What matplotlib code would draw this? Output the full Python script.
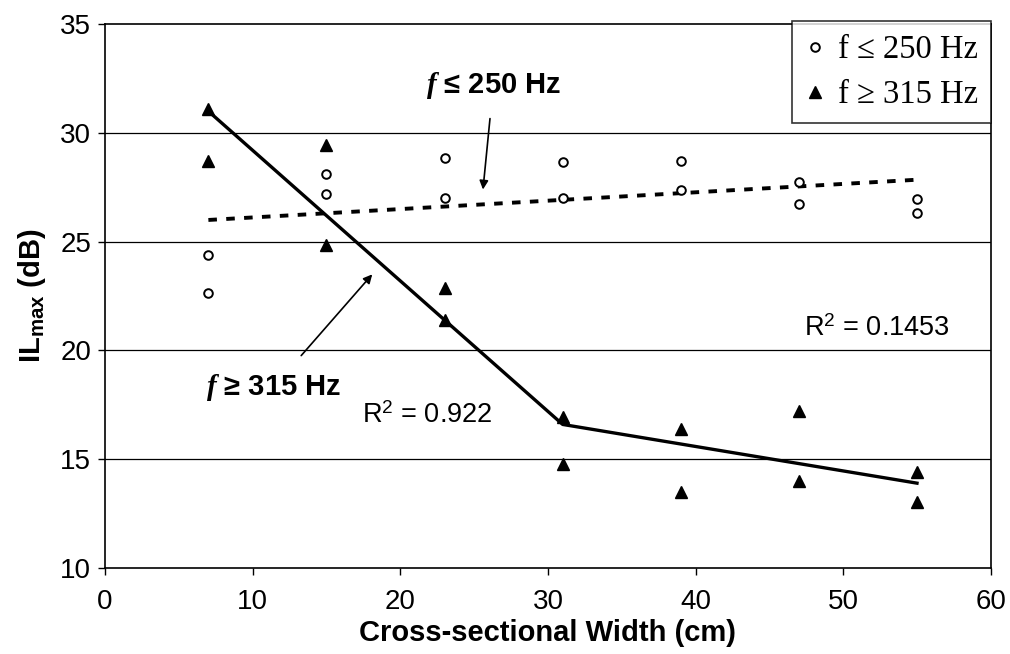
import matplotlib
matplotlib.use("Agg")
import matplotlib.pyplot as plt
from matplotlib.lines import Line2D

# ── данные ────────────────────────────────────────────────────────────────
widths = [7, 15, 23, 31, 39, 47, 55]

# f <= 250 Hz : по две точки на каждую ширину
low_a = [24.4, 28.1, 28.85, 28.65, 28.7, 27.75, 26.95]
low_b = [22.65, 27.2, 27.0, 27.0, 27.4, 26.75, 26.3]

# f >= 315 Hz
high_a = [31.1, 29.45, 22.85, 16.95, 16.4, 17.2, 14.4]
high_b = [28.7, 24.85, 21.4, 14.8, 13.5, 14.0, 13.05]

# линии тренда
trend_high_x = [7, 31, 55]
trend_high_y = [31.0, 16.6, 13.9]
trend_low_x = [7, 55]
trend_low_y = [26.0, 27.85]

xticks = [0, 10, 20, 30, 40, 50, 60]
yticks = [10, 15, 20, 25, 30, 35]

# ── шрифты ────────────────────────────────────────────────────────────────
plt.rcParams["font.family"] = ["Liberation Sans", "DejaVu Sans"]
plt.rcParams["mathtext.fontset"] = "custom"
plt.rcParams["mathtext.rm"] = "Liberation Sans"
plt.rcParams["mathtext.bf"] = "Liberation Sans:bold"
plt.rcParams["mathtext.it"] = "Liberation Serif:italic:bold"

fig = plt.figure(figsize=(10.1, 6.54), dpi=100)
ax = fig.add_axes([0.104, 0.1315, 0.877, 0.8315])

# сетка
for y in yticks[1:-1]:
    ax.axhline(y, color="black", lw=0.9, zorder=1)

# точки
ax.plot(widths, low_a, "o", ms=6.2, mfc="white", mec="black", mew=1.4, zorder=3)
ax.plot(widths, low_b, "o", ms=6.2, mfc="white", mec="black", mew=1.4, zorder=3)
ax.plot(widths, high_a, "^", ms=8.5, color="black", zorder=3)
ax.plot(widths, high_b, "^", ms=8.5, color="black", zorder=3)

# тренды
ax.plot(trend_high_x, trend_high_y, "-", color="black", lw=2.4, zorder=2)
ax.plot(trend_low_x, trend_low_y, color="black", lw=2.8, dashes=(2.2, 2.4), zorder=2)

ax.set_xlim(0, 60)
ax.set_ylim(10, 35)
ax.set_xticks(xticks)
ax.set_yticks(yticks)
ax.tick_params(direction="out", length=5, width=1, labelsize=20, pad=5)
ax.tick_params(axis="x", pad=10)
for s in ax.spines.values():
    s.set_linewidth(1.2)

ax.set_xlabel("Cross-sectional Width (cm)", fontsize=21, fontweight="bold", labelpad=3)
ax.set_ylabel(r"IL$_{\mathbf{max}}$ (dB)", fontsize=21, fontweight="bold", labelpad=9)

# подписи со стрелками
ax.annotate(r"$\mathit{f}$ ≤ 250 Hz", xy=(25.6, 27.4), xytext=(26.3, 32.2),
            ha="center", va="center", fontsize=21, fontweight="bold",
            arrowprops=dict(arrowstyle="-|>", color="black", lw=1.2,
                            mutation_scale=13, shrinkA=11, shrinkB=0))
ax.annotate(r"$\mathit{f}$ ≥ 315 Hz", xy=(18.1, 23.5), xytext=(11.4, 18.3),
            ha="center", va="center", fontsize=21, fontweight="bold",
            arrowprops=dict(arrowstyle="-|>", color="black", lw=1.2,
                            mutation_scale=13, shrinkA=13, shrinkB=0))

ax.text(21.8, 17.0, r"R$^{\mathrm{2}}$ = 0.922", ha="center", va="center", fontsize=19.5)
ax.text(52.3, 21.0, r"R$^{\mathrm{2}}$ = 0.1453", ha="center", va="center", fontsize=19.5)

# легенда
handles = [
    Line2D([], [], ls="none", marker="o", ms=6.2, mfc="white", mec="black", mew=1.4),
    Line2D([], [], ls="none", marker="^", ms=8.5, color="black"),
]
leg = ax.legend(handles, ["f ≤ 250 Hz", "f ≥ 315 Hz"], loc="upper right",
                bbox_to_anchor=(1.0, 1.005), frameon=True, fancybox=False,
                borderaxespad=0, handlelength=0.6, handletextpad=0.4,
                labelspacing=0.45, borderpad=0.4,
                prop={"family": ["Liberation Serif", "DejaVu Serif"], "size": 23.5})
leg.get_frame().set_edgecolor("black")
leg.get_frame().set_linewidth(1.2)

fig.savefig("out.png", dpi=100)
